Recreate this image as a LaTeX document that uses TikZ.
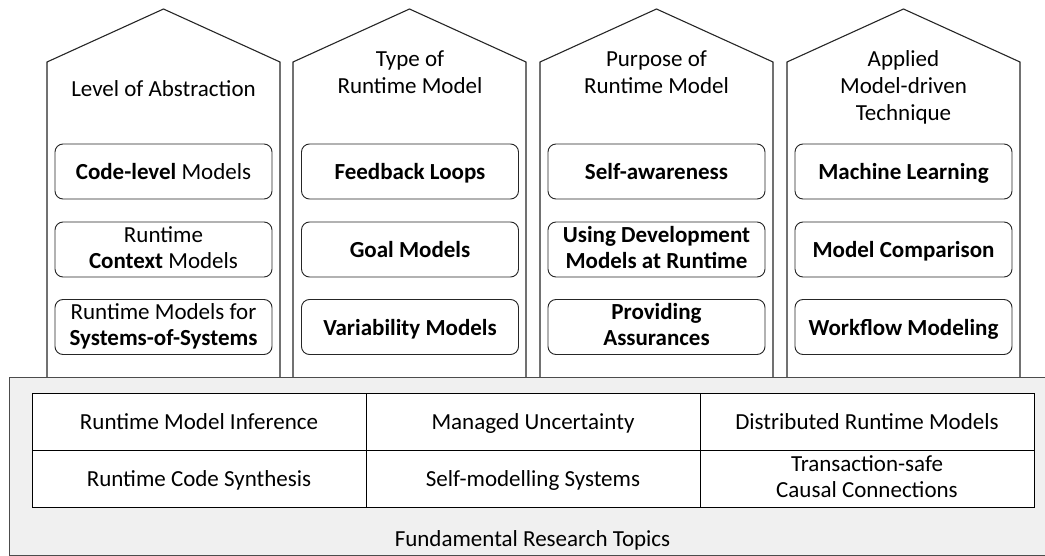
\documentclass[tikz,border=0pt]{standalone}
\usepackage{fontspec}
\setmainfont{Carlito}
\newcommand\mystrut{\rule[-4.8pt]{0pt}{26pt}}
\begin{document}
\begin{tikzpicture}[x=1pt,y=-1pt,
  txt/.style={execute at begin node=\mystrut, execute at end node=\mystrut},
  pillar/.style={draw=black!85, line width=1.1pt, fill=white, line join=miter},
  title/.style={txt, align=center, font=\fontsize{23}{27}\selectfont, inner sep=0pt},
  item/.style={txt, draw=black!85, line width=0.9pt, rounded corners=8pt, minimum width=217pt, minimum height=55pt, align=center, font=\fontsize{23}{26}\selectfont, inner sep=0pt},
  bitem/.style={item, font=\fontsize{23}{26}\selectfont\bfseries},
  cell/.style={txt, draw=black, fill=white, line width=1pt, minimum width=334pt, minimum height=57pt, align=center, font=\fontsize{23}{26}\selectfont, inner sep=0pt},
  base/.style={draw=black!70, line width=0.9pt, fill=black!6}]
\useasboundingbox (0,0) rectangle (1045,556);
% pillars
\foreach \l/\n in {47/pa,293/pb,540/pc,787/pd}{
  \draw[pillar] (\l,377) -- (\l,62) -- ({\l+116.5},9) -- ({\l+233},62) -- ({\l+233},377);
}
% base
\node[base, minimum width=1050pt, minimum height=178pt, anchor=north west, inner sep=0pt] (basebox) at (9,377) {};
% titles
\node[title] (t1) at (163.5,88) {Level of Abstraction};
\node[title] (t2) at (410,74.5) {Type of\\Runtime Model};
\node[title] (t3) at (656.5,74.5) {Purpose of\\Runtime Model};
\node[title] (t4) at (903.5,88) {Applied\\Model-driven\\Technique};
% items
\node[item] (a1) at (163.5,171.5) {\textbf{Code-level} Models};
\node[item] (a2) at (163.5,249.5) {Runtime\\\textbf{Context} Models};
\node[item] (a3) at (163.5,327) {Runtime Models for\\\textbf{Systems-of-Systems}};
\node[bitem] (b1) at (410,171.5) {Feedback Loops};
\node[bitem] (b2) at (410,249.5) {Goal Models};
\node[bitem] (b3) at (410,327) {Variability Models};
\node[bitem] (c1) at (656.5,171.5) {Self-awareness};
\node[bitem] (c2) at (656.5,249.5) {Using Development\\Models at Runtime};
\node[bitem] (c3) at (656.5,327) {Providing\\Assurances};
\node[bitem] (d1) at (903.5,171.5) {Machine Learning};
\node[bitem] (d2) at (903.5,249.5) {Model Comparison};
\node[bitem] (d3) at (903.5,327) {Workflow Modeling};
% table
\node[cell] (r1) at (199,421.5) {Runtime Model Inference};
\node[cell] (r2) at (533,421.5) {Managed Uncertainty};
\node[cell] (r3) at (867,421.5) {Distributed Runtime Models};
\node[cell] (s1) at (199,478.5) {Runtime Code Synthesis};
\node[cell] (s2) at (533,478.5) {Self-modelling Systems};
\node[cell] (s3) at (867,478.5) {Transaction-safe\\Causal Connections};
\node[title] (frt) at (532.5,538) {Fundamental Research Topics};
\end{tikzpicture}
\end{document}
